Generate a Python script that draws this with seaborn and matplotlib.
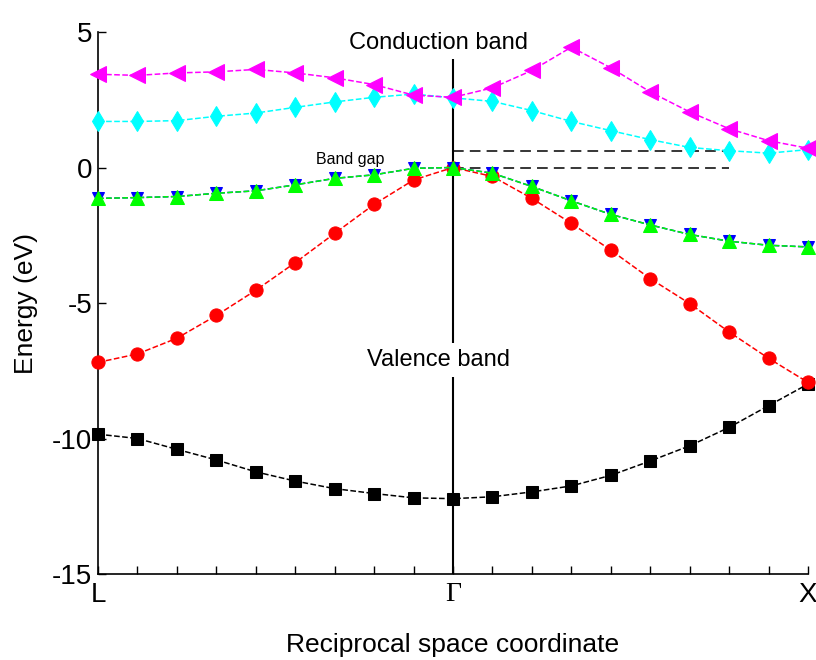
import numpy as np
import pandas as pd
import matplotlib
matplotlib.use("Agg")
import matplotlib.pyplot as plt
import seaborn as sns

# k-path index: L (0) -> Gamma (9) -> X (18)
k = list(range(19))
k_labels = ["L", "\u0393", "X"]
k_label_pos = [0, 9, 18]

# band energies (eV)
band_magenta = [3.44, 3.40, 3.49, 3.53, 3.62, 3.49, 3.31, 3.06, 2.67, 2.59,
                2.94, 3.58, 4.44, 3.68, 2.79, 2.05, 1.43, 0.99, 0.71]
band_cyan = [1.70, 1.70, 1.73, 1.89, 2.01, 2.22, 2.42, 2.59, 2.71, 2.57,
             2.44, 2.10, 1.70, 1.36, 1.03, 0.74, 0.62, 0.53, 0.66]
band_blue = [-1.14, -1.11, -1.07, -0.95, -0.86, -0.64, -0.40, -0.27, -0.03, 0.0,
             -0.21, -0.70, -1.23, -1.73, -2.12, -2.47, -2.72, -2.87, -2.93]
band_green = [-1.14, -1.11, -1.07, -0.95, -0.86, -0.64, -0.40, -0.27, -0.03, 0.0,
              -0.21, -0.70, -1.23, -1.73, -2.12, -2.47, -2.72, -2.87, -2.93]
band_red = [-7.19, -6.88, -6.30, -5.46, -4.53, -3.51, -2.43, -1.36, -0.46, 0.0,
            -0.33, -1.14, -2.06, -3.05, -4.10, -5.02, -6.07, -7.04, -7.93]
band_black = [-9.84, -10.00, -10.40, -10.79, -11.23, -11.57, -11.85, -12.03, -12.19, -12.22,
              -12.15, -11.97, -11.75, -11.36, -10.83, -10.27, -9.59, -8.79, -7.99]

# band gap guide lines
gap_levels = [0.0, 0.6]
gap_k_end = 16

sns.set_style("white")
plt.rcParams["font.family"] = ["Liberation Sans", "DejaVu Sans"]
plt.rcParams["axes.unicode_minus"] = False
plt.rcParams["text.color"] = "black"

fig = plt.figure(figsize=(8.16, 6.6), dpi=100)
ax = fig.add_axes([0.1201, 0.1303, 0.8701, 0.8212])

styles = [
    (band_black, "black", "s", 9),
    (band_red, "red", "o", 9.5),
    (band_blue, "blue", "v", 8.5),
    (band_green, "#00ff00", "^", 10),
    (band_cyan, "cyan", "d", 10),
    (band_magenta, "magenta", "<", 11.5),
]
for vals, col, mk, ms in styles:
    sns.lineplot(x=k, y=vals, ax=ax, color=col, marker=mk, markersize=ms,
                 markeredgecolor=col, linestyle="--", linewidth=1.1,
                 dashes=(7, 4), clip_on=False, zorder=3)

# Gamma line
ax.vlines(k[9], -15, 4, color="black", linewidth=1.5, zorder=2)
ax.hlines(gap_levels, k[9], gap_k_end, colors="black", linestyles=(0, (7, 4)),
          linewidth=1.1, zorder=2)

ax.text(9 - 0.38, 4.6, "Conduction band", ha="center", va="center", fontsize=17)
ax.text(9 - 0.38, -7.1, "Valence band", ha="center", va="center", fontsize=17,
        bbox=dict(facecolor="white", edgecolor="none", pad=4), zorder=4)
ax.text(6.4, 0.3, "Band gap", ha="center", va="center", fontsize=11.5)

ax.set_xlim(0, 18)
ax.set_ylim(-15, 5)
ax.set_xticks(k, minor=True)
ax.set_xticks(k_label_pos)
ax.set_xticklabels(k_labels)
ax.set_yticks([5, 0, -5, -10, -15])
ax.tick_params(axis="both", which="both", direction="in", length=6, width=1,
               color="black", labelcolor="black", labelsize=20, pad=4,
               bottom=True, left=True)
ax.tick_params(axis="x", which="major", length=6, pad=6)
ax.get_xticklabels()[1].set_fontfamily("Liberation Serif")

for s in ["top", "right"]:
    ax.spines[s].set_visible(False)
for s in ["left", "bottom"]:
    ax.spines[s].set_color("black")
    ax.spines[s].set_linewidth(1.2)

ax.set_xlabel("Reciprocal space coordinate", fontsize=19, labelpad=18, color="black")
ax.set_ylabel("Energy (eV)", fontsize=19, labelpad=10, color="black")

fig.savefig("out.png", dpi=100)
